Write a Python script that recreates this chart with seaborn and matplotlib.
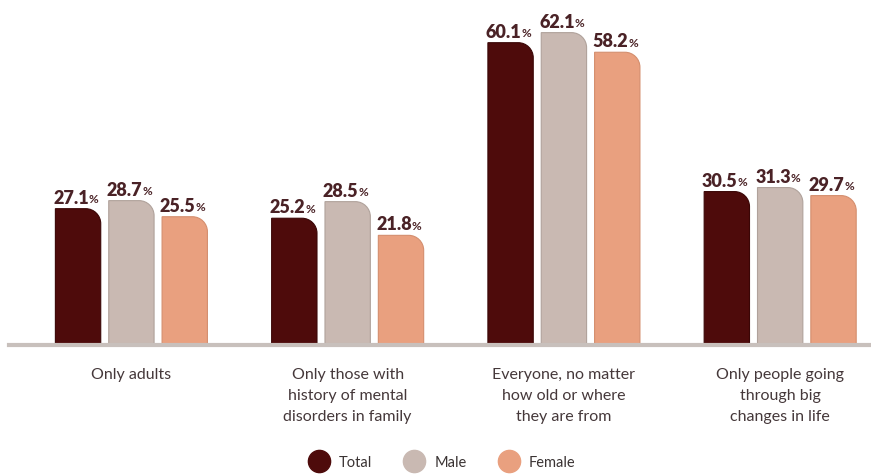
import matplotlib
matplotlib.use("Agg")
import matplotlib.pyplot as plt
import seaborn as sns
import pandas as pd
import numpy as np
from matplotlib.path import Path
from matplotlib.patches import PathPatch
from matplotlib.lines import Line2D
from matplotlib.transforms import offset_copy

categories = ["Only adults",
              "Only those with\nhistory of mental\ndisorders in family",
              "Everyone, no matter\nhow old or where\nthey are from",
              "Only people going\nthrough big\nchanges in life"]
series = ["Total", "Male", "Female"]
total = [27.1, 25.2, 60.1, 30.5]
male = [28.7, 28.5, 62.1, 31.3]
female = [25.5, 21.8, 58.2, 29.7]
colors = ["#4e0b0b", "#c9b9b2", "#e9a07f"]
edges = ["#3a0606", "#b0a29b", "#d48e6e"]

df = pd.DataFrame({
    "category": categories * 3,
    "series": [s for s in series for _ in categories],
    "value": total + male + female,
})

sns.set_theme(style="white")
plt.rcParams["font.family"] = ["Lato", "DejaVu Sans"]

W, H = 871, 477
fig = plt.figure(figsize=(W / 100, H / 100), dpi=100)
ax = fig.add_axes([9 / W, (H - 346) / H, 1 - 9 / W, 346 / H])

sns.barplot(data=df, x="category", y="value", hue="series", hue_order=series,
            order=categories, palette=colors, width=0.74, gap=0.15,
            legend=False, ax=ax, saturation=1)

ax.set_xlim(-0.566, 3.42)
ax.set_ylim(0, 346 / 5.03)

fig.canvas.draw()
sx = ax.transData.transform((1, 0))[0] - ax.transData.transform((0, 0))[0]
sy = ax.transData.transform((0, 1))[1] - ax.transData.transform((0, 0))[1]
rpx = 15
k = 0.5523

bars = list(ax.patches)
for i, p in enumerate(bars):
    x0, y0 = p.get_x(), p.get_y()
    w, h = p.get_width(), p.get_height()
    si = i // len(categories)
    rx = min(rpx / sx, w * 0.45)
    ry = min(rpx / sy, h * 0.45)
    x1, y1 = x0 + w, y0 + h
    verts = [(x0, y0), (x0, y1), (x1 - rx, y1),
             (x1 - rx + k * rx, y1), (x1, y1 - ry + k * ry), (x1, y1 - ry),
             (x1, y0), (x0, y0)]
    codes = [Path.MOVETO, Path.LINETO, Path.LINETO,
             Path.CURVE4, Path.CURVE4, Path.CURVE4,
             Path.LINETO, Path.CLOSEPOLY]
    pp = PathPatch(Path(verts, codes), facecolor=colors[si], edgecolor=edges[si],
                   lw=0.8, zorder=2)
    ax.add_patch(pp)
    p.remove()

    cx = x0 + w / 2
    tr = offset_copy(ax.transData, fig=fig, x=-7, y=3, units="dots")
    t = ax.text(cx, y1, f"{h:.1f}", transform=tr, ha="center", va="bottom",
                fontsize=13, fontweight="heavy", color="#4a2226")
    ax.annotate("%", xy=(1, 0.1), xycoords=t, ha="left", va="bottom",
                fontsize=8.5, fontweight="bold", color="#4a2226")

for s in ["top", "right", "left"]:
    ax.spines[s].set_visible(False)
ax.spines["bottom"].set_color("#c8c0bc")
ax.spines["bottom"].set_linewidth(3)
ax.spines["bottom"].set_zorder(3)
ax.set_yticks([])
ax.set_xlabel("")
ax.set_ylabel("")
ax.set_xticks(range(len(categories)), labels=categories, linespacing=1.62,
              va="top", fontsize=11.5, color="#45383a")
ax.tick_params(axis="x", length=0, pad=16)

handles = [Line2D([], [], marker="o", ls="", markersize=16, markerfacecolor=c,
                  markeredgecolor=c, label=s) for s, c in zip(series, colors)]
fig.legend(handles=handles, loc="center", bbox_to_anchor=(0.505, 1 - 463 / H),
           ncol=3, frameon=False, fontsize=10.5, handletextpad=0.35,
           columnspacing=1.9, labelcolor="#3a3333")

fig.savefig("out.png", dpi=100)
